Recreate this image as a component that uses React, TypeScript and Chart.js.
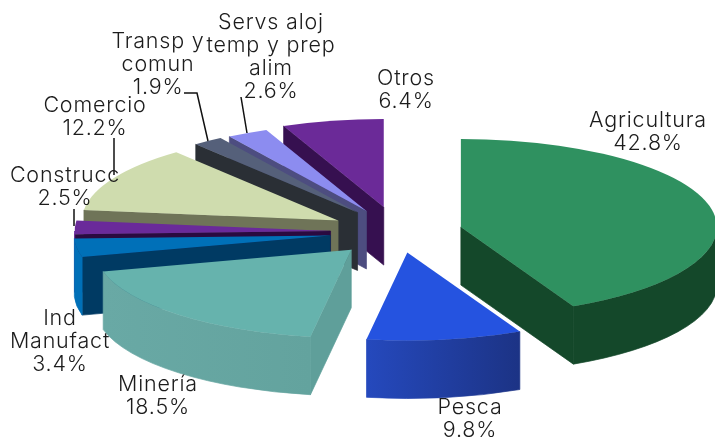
import React, { useEffect, useRef } from "react";
import { Chart, registerables } from "chart.js";

Chart.register(...registerables);

const categories = ["Agricultura", "Pesca", "Minería", "Ind Manufact", "Construcc", "Comercio", "Transp y comun", "Servs aloj temp y prep alim", "Otros"];
const shares = [42.8, 9.8, 18.5, 3.4, 2.5, 12.2, 1.9, 2.6, 6.4];

const topColors = ["#2f9160", "#2553e0", "#66b3ad", "#0070b8", "#6a2a9a", "#cfdcae", "#55607a", "#8c8cf0", "#6b2a98"];
const wallColors = [
  ["#14482a", "#14482a"], ["#2549bd", "#1c3385"], ["#69a9a5", "#63a39e"], ["#0070b8", "#0070b8"], ["#6a2a9a", "#6a2a9a"],
  ["#6f7458", "#6f7458"], ["#2a2f35", "#2a2f35"], ["#4d4d80", "#4d4d80"], ["#361050", "#361050"],
];
const faceColors = ["#14482a", "#1c3385", "#5f9f9a", "#003a63", "#2a0a40", "#6f7458", "#2a2f35", "#4d4d80", "#361050"];
const explode = [64, 60, 70, 69, 68, 69, 70, 69, 74];

const SQUASH = 0.344;
const DEPTH = 58;

const labelLayout = [
  { lines: ["Agricultura"], x: 648, y: 121 },
  { lines: ["Pesca"], x: 470, y: 408 },
  { lines: ["Minería"], x: 158, y: 385 },
  { lines: ["Ind", "Manufact"], x: 60, y: 319 },
  { lines: ["Construcc"], x: 65, y: 176 },
  { lines: ["Comercio"], x: 95, y: 106 },
  { lines: ["Transp y", "comun"], x: 158, y: 42 },
  { lines: ["Servs aloj", "temp y prep", "alim"], x: 271, y: 23 },
  { lines: ["Otros"], x: 406, y: 79 },
];

const leaders = [
  [[114, 138], [114, 175]],
  [[184, 93], [197, 93], [208, 141]],
  [[241, 97], [247, 133]],
  [[74, 209], [74, 226]],
];

const pie3d = {
  id: "pie3d",
  beforeDatasetDraw(chart: any) {
    const ctx = chart.ctx;
    const arcs = chart.getDatasetMeta(0).data;
    ctx.save();
    ctx.lineWidth = 0.7;
    for (let i = arcs.length - 1; i >= 0; i--) {
      const el = arcs[i];
      const a = el.startAngle;
      const b = el.endAngle;
      const mid = (a + b) / 2;
      const off = el.options.offset;
      const R = el.outerRadius;
      const ry = R * SQUASH;
      const px = el.x + Math.cos(mid) * off;
      const py = el.y + Math.sin(mid) * off * SQUASH;
      const at = (t: number) => [px + Math.cos(t) * R, py + Math.sin(t) * ry];

      const quad = (t: number) => {
        const [ex, ey] = at(t);
        ctx.beginPath();
        ctx.moveTo(px, py);
        ctx.lineTo(ex, ey);
        ctx.lineTo(ex, ey + DEPTH);
        ctx.lineTo(px, py + DEPTH);
        ctx.closePath();
        ctx.fillStyle = faceColors[i];
        ctx.strokeStyle = faceColors[i];
        ctx.fill();
        ctx.stroke();
      };
      if (-Math.cos(a) > 0) quad(a);
      if (Math.cos(b) > 0) quad(b);

      const w0 = Math.max(a, 0);
      const w1 = Math.min(b, Math.PI);
      if (w1 > w0) {
        const [x0] = at(w1);
        const [x1] = at(w0);
        const grad = ctx.createLinearGradient(x0, 0, x1, 0);
        grad.addColorStop(0, wallColors[i][0]);
        grad.addColorStop(1, wallColors[i][1]);
        ctx.beginPath();
        ctx.ellipse(px, py, R, ry, 0, w0, w1, false);
        ctx.ellipse(px, py + DEPTH, R, ry, 0, w1, w0, true);
        ctx.closePath();
        ctx.fillStyle = grad;
        ctx.strokeStyle = grad;
        ctx.fill();
        ctx.stroke();
      }

      ctx.beginPath();
      ctx.moveTo(px, py);
      ctx.ellipse(px, py, R, ry, 0, a, b, false);
      ctx.closePath();
      ctx.fillStyle = topColors[i];
      ctx.fill();
    }
    ctx.restore();
    return false;
  },
  afterDatasetsDraw(chart: any) {
    const ctx = chart.ctx;
    ctx.save();
    ctx.fillStyle = "#ffffff";
    ctx.fillRect(76, 209, 7, 11);
    ctx.strokeStyle = "#111111";
    ctx.lineWidth = 1.5;
    leaders.forEach((pts) => {
      ctx.beginPath();
      pts.forEach(([x, y], n) => (n ? ctx.lineTo(x, y) : ctx.moveTo(x, y)));
      ctx.stroke();
    });
    ctx.fillStyle = "#1c1c1c";
    ctx.font = "300 21.5px Inter";
    (ctx as any).letterSpacing = "0.8px";
    ctx.textAlign = "center";
    ctx.textBaseline = "middle";
    const step = 23;
    labelLayout.forEach((lab, i) => {
      const lines = [...lab.lines, shares[i].toFixed(1) + "%"];
      lines.forEach((t, n) => ctx.fillText(t, lab.x, lab.y + n * step));
    });
    ctx.restore();
  },
};

export default function App() {
  const ref = useRef<HTMLCanvasElement>(null);
  useEffect(() => {
    document.body.style.margin = "0";
    const chart = new Chart(ref.current as HTMLCanvasElement, {
      type: "pie",
      data: {
        labels: categories,
        datasets: [{ data: shares, backgroundColor: topColors, offset: explode, borderWidth: 0 }],
      },
      options: {
        animation: false,
        responsive: false,
        radius: 256,
        layout: { padding: { left: 82, top: 24 } },
        plugins: { legend: { display: false }, tooltip: { enabled: false } },
      },
      plugins: [pie3d],
    } as any);
    return () => chart.destroy();
  }, []);
  return <canvas ref={ref} width={715} height={440} style={{ display: "block" }} />;
}
